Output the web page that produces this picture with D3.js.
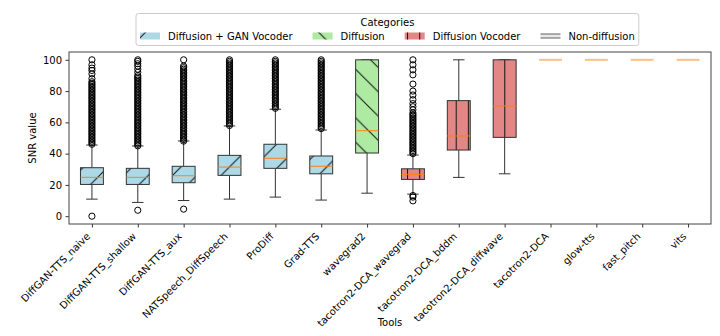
<!DOCTYPE html>
<html>
<head>
<meta charset="utf-8">
<script src="https://cdn.jsdelivr.net/npm/d3@7"></script>
<style>
  body { margin: 0; background: #fff; }
  svg text { font-family: "DejaVu Sans", sans-serif; fill: #000; }
</style>
</head>
<body>
<div id="chart"></div>
<script>
// tools on the x axis
const tools = ["DiffGAN-TTS_naive", "DiffGAN-TTS_shallow", "DiffGAN-TTS_aux", "NATSpeech_DiffSpeech",
  "ProDiff", "Grad-TTS", "wavegrad2", "tacotron2-DCA_wavegrad", "tacotron2-DCA_bddm",
  "tacotron2-DCA_diffwave", "tacotron2-DCA", "glow-tts", "fast_pitch", "vits"]
const groupOf = ["Diffusion + GAN Vocoder", "Diffusion + GAN Vocoder", "Diffusion + GAN Vocoder",
  "Diffusion + GAN Vocoder", "Diffusion + GAN Vocoder", "Diffusion + GAN Vocoder", "Diffusion",
  "Diffusion Vocoder", "Diffusion Vocoder", "Diffusion Vocoder",
  "Non-diffusion", "Non-diffusion", "Non-diffusion", "Non-diffusion"]
const categories = ["Diffusion + GAN Vocoder", "Diffusion", "Diffusion Vocoder", "Non-diffusion"]

// box stats (SNR)
const q1 = [20.3, 20.3, 21.4, 26.1, 30.6, 27.1, 40.4, 23.5, 42.3, 50.4, 100, 100, 100, 100]
const medians = [24.8, 24.8, 25.9, 31.4, 37.0, 31.9, 54.7, 26.7, 51.3, 70.5, 100, 100, 100, 100]
const q3 = [31.0, 30.6, 31.9, 38.9, 46.0, 38.5, 100, 30.3, 73.9, 100, 100, 100, 100, 100]
const whiskLo = [10.9, 8.8, 10.0, 10.9, 12.2, 10.3, 14.7, 14.1, 24.8, 27.1, 100, 100, 100, 100]
const whiskHi = [45.5, 44.9, 48.1, 57.7, 68.4, 55.1, 100, 39.1, 100, 100, 100, 100, 100, 100]

// outliers
const fliers = [
  [0, 46, 47, 48, 49, 50, 51, 52, 53, 54, 55, 56, 57, 58, 59, 60, 61, 62, 63, 64, 65, 66, 67, 68, 69, 70,
   71, 72, 73, 74, 75, 76, 77, 78, 79, 80, 81, 82, 83, 84, 85, 86, 88, 91, 93.2, 94.7, 96.8, 100],
  [3.8, 45, 46, 47, 48, 49, 50, 51, 52, 53, 54, 55, 56, 57, 58, 59, 60, 61, 62, 63, 64, 65, 66, 67, 68, 69,
   70, 71, 72, 73, 74, 75, 76, 77, 78, 79, 80, 81, 82, 83, 84, 85, 86, 87, 88, 89, 90, 92, 94, 96, 97.5, 99, 100],
  [4.5, 48, 49, 50, 51, 52, 53, 54, 55, 56, 57, 58, 59, 60, 61, 62, 63, 64, 65, 66, 67, 68, 69, 70, 71, 72,
   73, 74, 75, 76, 77, 78, 79, 80, 81, 82, 83, 84, 85, 86, 87, 88, 89, 90, 91, 92, 93, 94, 95, 96, 100],
  [58, 59, 60, 61, 62, 63, 64, 65, 66, 67, 68, 69, 70, 71, 72, 73, 74, 75, 76, 77, 78, 79, 80, 81, 82, 83,
   84, 85, 86, 87, 88, 89, 90, 91, 92, 93, 94, 95, 96, 97, 98, 99, 100],
  [69, 70, 71, 72, 73, 74, 75, 76, 77, 78, 79, 80, 81, 82, 83, 84, 85, 86, 87, 88, 89, 90, 91, 92, 93, 94,
   95, 96, 97, 98, 99, 100],
  [56, 57, 58, 59, 60, 61, 62, 63, 64, 65, 66, 67, 68, 69, 70, 71, 72, 73, 74, 75, 76, 77, 78, 79, 80, 81,
   82, 83, 84, 85, 86, 87, 88, 89, 90, 91, 92, 93, 94, 95, 96, 97, 98, 99, 100],
  [],
  [9.8, 12.2, 13.2, 40, 41, 42, 43, 44, 45, 46, 47, 48, 49, 50, 51, 52, 53, 54, 55, 56, 57, 58, 59, 60, 61,
   62, 63, 64, 65, 66, 68, 70, 72, 74.5, 77.5, 80, 84.5, 90.4, 93.6, 96.8, 100],
  [], [], [], [], [], []
]

const yTicks = [0, 20, 40, 60, 80, 100]

const fills = {
  "Diffusion + GAN Vocoder": "#add8e6",
  "Diffusion": "#aeeaa2",
  "Diffusion Vocoder": "#e38686",
  "Non-diffusion": "#dcdcdc"
}
const hatchOf = {
  "Diffusion + GAN Vocoder": "url(#hatch-ne)",
  "Diffusion": "url(#hatch-nw)",
  "Diffusion Vocoder": "url(#hatch-v)",
  "Non-diffusion": null
}

const width = 720, height = 336
const margin = { left: 69, right: 9, top: 52, bottom: 112 }

const svg = d3.select('#chart').append('svg')
  .attr('width', width).attr('height', height)

// hatch patterns, fixed to page coords
const defs = svg.append('defs')
const P = 24.3
defs.append('pattern').attr('id', 'hatch-ne').attr('patternUnits', 'userSpaceOnUse')
  .attr('x', 7.7).attr('y', 0).attr('width', P).attr('height', P)
  .append('path')
  .attr('d', `M0,${P}L${P},0M-2,2L2,-2M${P - 2},${P + 2}L${P + 2},${P - 2}`)
  .attr('stroke', '#111').attr('stroke-width', 1)
defs.append('pattern').attr('id', 'hatch-nw').attr('patternUnits', 'userSpaceOnUse')
  .attr('x', 19.1).attr('y', 0).attr('width', P).attr('height', P)
  .append('path')
  .attr('d', `M0,0L${P},${P}M-2,${P - 2}L2,${P + 2}M${P - 2},-2L${P + 2},2`)
  .attr('stroke', '#111').attr('stroke-width', 1)
const V = 12.15
defs.append('pattern').attr('id', 'hatch-v').attr('patternUnits', 'userSpaceOnUse')
  .attr('x', 6.15).attr('y', 0).attr('width', V).attr('height', 10)
  .append('path').attr('d', 'M0.5,0V10')
  .attr('stroke', '#111').attr('stroke-width', 1)

const x = d3.scaleLinear().domain([0.5, tools.length + 0.5]).range([margin.left, width - margin.right])
const y = d3.scaleLinear().domain([-5, 105]).range([height - margin.bottom, margin.top])
const unit = x(1) - x(0)
const boxW = unit * 0.5, capW = unit * 0.25

// axes
const xAxis = svg.append('g')
  .attr('transform', 'translate(0,' + (height - margin.bottom) + ')')
  .call(d3.axisBottom(x).tickValues(d3.range(1, tools.length + 1)).tickFormat((d) => tools[d - 1])
    .tickSize(3.5).tickPadding(3.5))
xAxis.select('.domain').remove()
xAxis.selectAll('line').attr('stroke', '#000').attr('stroke-width', 0.8)
xAxis.selectAll('text')
  .attr('font-size', 10)
  .attr('text-anchor', 'end')
  .attr('dy', null)
  .attr('y', 0)
  .attr('transform', 'translate(-1.6,13) rotate(-45)')

const yAxis = svg.append('g')
  .attr('transform', 'translate(' + margin.left + ',0)')
  .call(d3.axisLeft(y).tickValues(yTicks).tickSize(3.5).tickPadding(3.5))
yAxis.select('.domain').remove()
yAxis.selectAll('line').attr('stroke', '#000').attr('stroke-width', 0.8)
yAxis.selectAll('text').attr('font-size', 10)

// boxes
const idx = d3.range(tools.length)
const plot = svg.append('g')

idx.forEach(function(i) {
  const cx = x(i + 1)
  const g = groupOf[i]
  const nonDiff = g === 'Non-diffusion'
  const line = nonDiff ? 'none' : '#333'

  plot.append('line').attr('x1', cx).attr('x2', cx).attr('y1', y(whiskLo[i])).attr('y2', y(q1[i]))
    .attr('stroke', line).attr('stroke-width', 1)
  plot.append('line').attr('x1', cx).attr('x2', cx).attr('y1', y(whiskHi[i])).attr('y2', y(q3[i]))
    .attr('stroke', line).attr('stroke-width', 1)
  plot.selectAll(null).data([whiskLo[i], whiskHi[i]]).enter().append('line')
    .attr('x1', cx - capW / 2).attr('x2', cx + capW / 2)
    .attr('y1', (d) => y(d)).attr('y2', (d) => y(d))
    .attr('stroke', line).attr('stroke-width', 1)

  if (!nonDiff) {
    plot.append('rect').attr('x', cx - boxW / 2).attr('y', y(q3[i]))
      .attr('width', boxW).attr('height', y(q1[i]) - y(q3[i]))
      .attr('fill', fills[g])
    plot.append('rect').attr('x', cx - boxW / 2).attr('y', y(q3[i]))
      .attr('width', boxW).attr('height', y(q1[i]) - y(q3[i]))
      .attr('fill', hatchOf[g])
    plot.append('rect').attr('x', cx - boxW / 2).attr('y', y(q3[i]))
      .attr('width', boxW).attr('height', y(q1[i]) - y(q3[i]))
      .attr('fill', 'none').attr('stroke', '#333').attr('stroke-width', 1)
  }

  plot.append('line').attr('x1', cx - boxW / 2).attr('x2', cx + boxW / 2)
    .attr('y1', y(medians[i])).attr('y2', y(medians[i]))
    .attr('stroke', '#ff7f0e')
    .attr('stroke-opacity', nonDiff ? 0.5 : 0.8)
    .attr('stroke-width', nonDiff ? 2 : 1.2)

  plot.selectAll(null).data(fliers[i]).enter().append('circle')
    .attr('cx', cx).attr('cy', (d) => y(d)).attr('r', 3.1)
    .attr('fill', 'none').attr('stroke', '#000').attr('stroke-width', 1)
})

// frame
svg.append('rect').attr('x', margin.left).attr('y', margin.top)
  .attr('width', width - margin.left - margin.right)
  .attr('height', height - margin.top - margin.bottom)
  .attr('fill', 'none').attr('stroke', '#444').attr('stroke-width', 1)

// axis titles
svg.append('text').attr('x', (margin.left + width - margin.right) / 2).attr('y', 326)
  .attr('text-anchor', 'middle').attr('font-size', 10).text('Tools')
svg.append('text').attr('transform', 'translate(36,' + ((margin.top + height - margin.bottom) / 2) + ') rotate(-90)')
  .attr('text-anchor', 'middle').attr('font-size', 10).text('SNR value')

// legend
const legend = svg.append('g')
const frame = legend.append('rect').attr('y', 13.5).attr('height', 32).attr('rx', 2.5)
  .attr('fill', '#fff').attr('fill-opacity', 0.8).attr('stroke', '#ccc').attr('stroke-width', 1)
let lx = 140
const left = 136
categories.forEach(function(c) {
  if (c === 'Non-diffusion') {
    legend.append('rect').attr('x', lx).attr('y', 34).attr('width', 20).attr('height', 4)
      .attr('fill', '#e8e8e8')
    legend.selectAll(null).data([34, 38]).enter().append('line')
      .attr('x1', lx).attr('x2', lx + 20).attr('y1', (d) => d).attr('y2', (d) => d)
      .attr('stroke', '#777').attr('stroke-width', 1.2)
  } else {
    legend.append('rect').attr('x', lx).attr('y', 32.5).attr('width', 20).attr('height', 7)
      .attr('fill', fills[c])
    legend.append('rect').attr('x', lx).attr('y', 32.5).attr('width', 20).attr('height', 7)
      .attr('fill', hatchOf[c])
  }
  const t = legend.append('text').attr('x', lx + 28).attr('y', 39.5).attr('font-size', 10).text(c)
  lx += 28 + t.node().getComputedTextLength() + 20
})
const right = lx - 20 + 4
frame.attr('x', left).attr('width', right - left)
legend.append('text').attr('x', (left + right) / 2).attr('y', 25.5)
  .attr('text-anchor', 'middle').attr('font-size', 10).text('Categories')
</script>
</body>
</html>
